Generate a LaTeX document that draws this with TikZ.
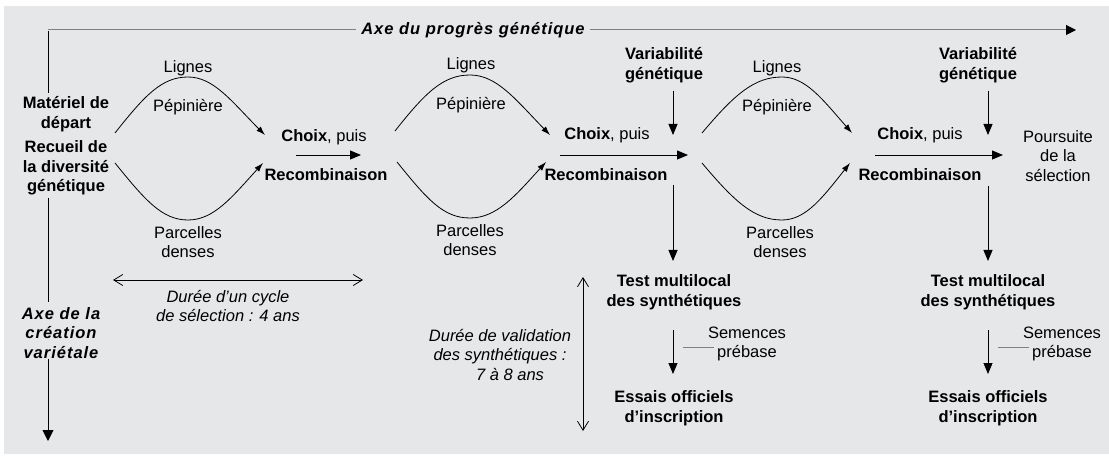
\documentclass[tikz,border=0pt]{standalone}
\usepackage{fontspec}
\setmainfont{Liberation Sans}
\usetikzlibrary{arrows.meta}
\definecolor{bggray}{HTML}{E6E7E9}
\definecolor{axgray}{HTML}{808080}
\begin{document}
\begin{tikzpicture}[x=1pt,y=-1pt,
  every node/.style={font=\fontsize{16.5}{19.5}\selectfont, align=center, inner sep=0pt},
  bt/.style={font=\fontsize{16.5}{19.5}\selectfont\bfseries},
  it/.style={font=\fontsize{16.5}{19.5}\selectfont\itshape},
  bit/.style={font=\fontsize{16.5}{19.5}\selectfont\bfseries\itshape\addfontfeatures{LetterSpace=6}},
  line/.style={line width=0.9pt, black},
  fat/.style={line/.try, -{Triangle[length=11pt,width=9pt]}},
  curv/.style={line width=0.8pt, -{Latex[length=9pt,width=6pt]}},
  dbl/.style={line width=0.8pt, {Straight Barb[length=9pt,width=11pt]}-{Straight Barb[length=9pt,width=11pt]}},
]
\useasboundingbox (0,0) rectangle (1109,457);
\fill[white] (0,0) rectangle (1109,457);
\fill[bggray] (4,6) rectangle (1109,454);

% axes
\node[bit, inner xsep=5pt] (axeprog) at (473,30) {Axe du progrès génétique};
\coordinate (corner) at (48,30);
\coordinate (progend) at (1076,30);
\draw[axgray, line width=1pt] (corner) -- (axeprog.west);
\draw[axgray, line width=1pt, -{Triangle[length=10pt,width=10pt,color=black]}] (axeprog.east) -- (progend);

\node[bt] (mat) at (66,114) {Matériel de\\départ};
\node[bt] (recueil) at (66,168) {Recueil de\\la diversité\\génétique};
\node[bit] (axecreat) at (61,333) {Axe de la\\création\\variétale};
\coordinate (v0) at (48,31);
\coordinate (v1) at (48,93);
\coordinate (v2) at (48,198);
\coordinate (v3) at (48,302);
\coordinate (v4) at (48,359);
\coordinate (v5) at (48,441);
\draw[line] (v0) -- (v1);
\draw[line] (v2) -- (v3);
\draw[line, -{Triangle[length=11pt,width=11pt]}] (v4) -- (v5);

% lens 1
\coordinate (a1s) at (115,133); \coordinate (a1t) at (188,77); \coordinate (a1e) at (265,135);
\coordinate (b1s) at (115,163); \coordinate (b1b) at (188,220); \coordinate (b1e) at (263,163);
\draw[curv] (a1s) .. controls (145,95) and (162,77) .. (a1t) .. controls (214,77) and (232,102) .. (a1e);
\draw[curv] (b1s) .. controls (145,200) and (162,220) .. (b1b) .. controls (214,220) and (232,197) .. (b1e);
\node (lig1) at (188,68) {Lignes};
\node (pep1) at (188,107) {Pépinière};
\node (par1) at (188,242) {Parcelles\\denses};

\node (choix1) at (324,137) {\textbf{Choix}, puis};
\node[bt] (rec1) at (326,175) {Recombinaison};
\coordinate (h1s) at (296,155); \coordinate (h1e) at (361,155);
\draw[fat] (h1s) -- (h1e);

% cycle duration
\coordinate (c1) at (113,280); \coordinate (c2) at (363,280);
\draw[dbl] (c1) -- (c2);
\node[it] (cycle) at (228,306) {Durée d'un cycle\\de sélection : 4 ans};

% lens 2
\coordinate (a2s) at (395,131); \coordinate (a2t) at (470,75); \coordinate (a2e) at (550,135);
\coordinate (b2s) at (397,162); \coordinate (b2b) at (470,218); \coordinate (b2e) at (546,162);
\draw[curv] (a2s) .. controls (425,93) and (443,75) .. (a2t) .. controls (497,75) and (516,100) .. (a2e);
\draw[curv] (b2s) .. controls (427,199) and (443,218) .. (b2b) .. controls (497,218) and (516,195) .. (b2e);
\node (lig2) at (471,65) {Lignes};
\node (pep2) at (471,105) {Pépinière};
\node (par2) at (470,240) {Parcelles\\denses};

\node (choix2) at (607,135) {\textbf{Choix}, puis};
\node[bt] (rec2) at (606,175) {Recombinaison};
\coordinate (h2s) at (560,155); \coordinate (h2e) at (688,155);
\draw[fat] (h2s) -- (h2e);

\node[bt] (var2) at (664,65) {Variabilité\\génétique};
\coordinate (vd2) at (673,135);
\draw[fat] (var2.south -| vd2) ++(0,8) coordinate (vs2) (vs2) -- (vd2);
\coordinate (d2s) at (673,185); \coordinate (d2e) at (673,261);
\draw[fat] (d2s) -- (d2e);
\node[bt] (test2) at (674,292) {Test multilocal\\des synthétiques};
\coordinate (e2s) at (673,330); \coordinate (e2e) at (673,374);
\draw[fat] (e2s) -- (e2e);
\node (sem2) at (747,344) {Semences\\prébase};
\coordinate (g2s) at (683,347); \coordinate (g2e) at (714,347);
\draw[axgray, line width=1pt] (g2s) -- (g2e);
\node[bt] (ess2) at (674,408) {Essais officiels\\d’inscription};

% validation duration
\coordinate (w1) at (583,277); \coordinate (w2) at (583,431);
\draw[dbl] (w1) -- (w2);
\node[it] (valid) at (500,355) {Durée de validation\\des synthétiques :\\\hspace*{20pt}7 à 8 ans};

% lens 3
\coordinate (a3s) at (702,133); \coordinate (a3t) at (782,77); \coordinate (a3e) at (852,133);
\coordinate (b3s) at (702,163); \coordinate (b3b) at (782,220); \coordinate (b3e) at (850,163);
\draw[curv] (a3s) .. controls (734,95) and (754,77) .. (a3t) .. controls (806,77) and (823,100) .. (a3e);
\draw[curv] (b3s) .. controls (734,201) and (754,220) .. (b3b) .. controls (806,220) and (823,197) .. (b3e);
\node (lig3) at (777,68) {Lignes};
\node (pep3) at (777,107) {Pépinière};
\node (par3) at (780,242) {Parcelles\\denses};

\node (choix3) at (920,135) {\textbf{Choix}, puis};
\node[bt] (rec3) at (920,175) {Recombinaison};
\coordinate (h3s) at (875,155); \coordinate (h3e) at (1003,155);
\draw[fat] (h3s) -- (h3e);
\node (pours) at (1058,156) {Poursuite\\de la\\sélection};

\node[bt] (var3) at (978,65) {Variabilité\\génétique};
\coordinate (vd3) at (988,135);
\draw[fat] (var3.south -| vd3) ++(0,8) coordinate (vs3) (vs3) -- (vd3);
\coordinate (d3s) at (988,186); \coordinate (d3e) at (988,261);
\draw[fat] (d3s) -- (d3e);
\node[bt] (test3) at (988,292) {Test multilocal\\des synthétiques};
\coordinate (e3s) at (988,330); \coordinate (e3e) at (988,374);
\draw[fat] (e3s) -- (e3e);
\node (sem3) at (1062,344) {Semences\\prébase};
\coordinate (g3s) at (998,347); \coordinate (g3e) at (1029,347);
\draw[axgray, line width=1pt] (g3s) -- (g3e);
\node[bt] (ess3) at (988,408) {Essais officiels\\d’inscription};
\end{tikzpicture}
\end{document}
